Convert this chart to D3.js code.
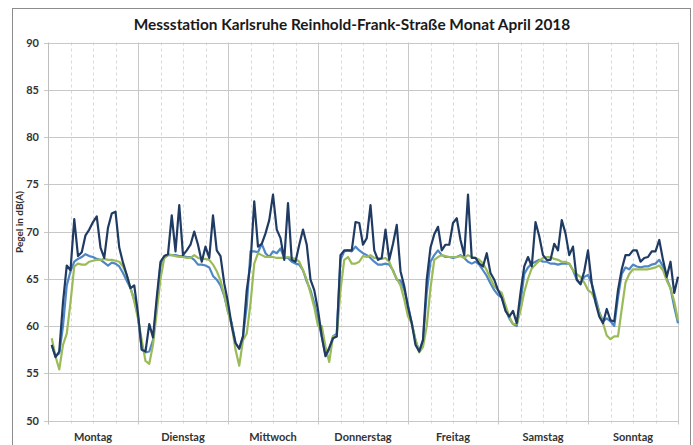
<!DOCTYPE html>
<html>
<head>
<meta charset="utf-8">
<script src="https://cdn.jsdelivr.net/npm/d3@7"></script>
<style>
  html, body { margin: 0; padding: 0; background: #fff; }
  svg { display: block; font-family: Lato, "Open Sans", sans-serif; }
</style>
</head>
<body>
<div id="chart"></div>
<script>
const titel = 'Messstation Karlsruhe Reinhold-Frank-Straße Monat April 2018';
const tage = ['Montag', 'Dienstag', 'Mittwoch', 'Donnerstag', 'Freitag', 'Samstag', 'Sonntag'];
const yTicks = [50, 55, 60, 65, 70, 75, 80, 85, 90];

// Stundenwerte, je Zeile ein Wochentag (0-23 Uhr)
const pegelDunkel = [
  58.0, 56.7, 57.3, 62.5, 66.4, 65.9, 71.3, 67.4, 67.8, 69.6, 70.2, 71.0, 71.6, 68.3, 67.2, 70.4, 71.9, 72.1, 68.3, 66.7, 65.4, 64.0, 64.3, 61.3,
  57.5, 57.3, 60.2, 58.8, 63.0, 66.8, 67.4, 67.6, 71.7, 67.9, 72.8, 67.5, 68.0, 68.6, 70.0, 68.6, 66.8, 68.4, 67.2, 71.7, 68.0, 67.4, 64.5, 62.5,
  60.0, 58.2, 57.6, 58.9, 63.8, 66.6, 73.2, 68.4, 68.7, 69.8, 71.2, 73.9, 70.2, 69.3, 67.0, 73.0, 67.0, 66.8, 68.6, 70.2, 68.6, 64.9, 63.8, 61.7,
  58.9, 56.8, 57.7, 58.7, 58.9, 67.5, 68.0, 68.0, 68.0, 71.0, 70.9, 68.6, 69.3, 72.8, 68.0, 67.0, 67.2, 70.2, 67.0, 68.7, 70.7, 65.8, 64.2, 62.0,
  60.3, 58.0, 57.3, 58.5, 64.9, 68.3, 69.7, 70.5, 68.0, 68.6, 68.6, 70.9, 71.4, 69.1, 67.5, 73.9, 67.2, 67.2, 66.6, 66.3, 67.7, 65.6, 64.9, 63.8,
  63.0, 61.6, 61.0, 61.6, 60.3, 63.5, 66.3, 67.3, 66.3, 71.0, 69.5, 67.5, 67.0, 67.0, 68.7, 68.0, 71.2, 69.8, 67.5, 68.4, 64.9, 64.4, 65.8, 68.0,
  64.5, 62.5, 61.0, 60.3, 61.8, 60.6, 60.5, 63.8, 66.0, 67.5, 67.5, 68.0, 68.0, 66.8, 67.2, 67.3, 67.9, 67.9, 69.1, 67.0, 65.2, 66.8, 63.5, 65.2
];
const pegelBlau = [
  58.0, 56.8, 57.1, 60.0, 64.3, 65.8, 66.8, 67.1, 67.3, 67.6, 67.4, 67.3, 67.1, 67.0, 66.7, 66.4, 66.7, 66.6, 66.3, 65.6, 64.8, 64.0, 62.8, 61.0,
  57.5, 57.2, 57.3, 58.5, 62.5, 66.5, 67.2, 67.5, 67.5, 67.5, 67.4, 67.4, 67.3, 67.3, 67.0, 66.5, 66.5, 66.4, 66.2, 65.3, 64.9, 64.3, 63.2, 61.5,
  60.3, 58.2, 57.6, 58.9, 62.1, 67.9, 67.9, 67.8, 68.7, 67.7, 67.3, 67.9, 67.7, 68.2, 67.2, 67.2, 66.8, 66.6, 66.5, 65.9, 64.7, 63.8, 62.4, 60.6,
  58.9, 56.9, 57.5, 58.9, 59.2, 67.0, 67.9, 68.0, 67.9, 68.4, 68.0, 67.7, 67.5, 67.2, 66.8, 66.5, 66.5, 66.6, 66.5, 65.9, 64.9, 64.8, 63.8, 62.2,
  60.3, 58.5, 57.3, 58.5, 63.5, 66.8, 67.5, 68.0, 67.5, 67.3, 67.3, 67.2, 67.3, 67.5, 67.2, 66.8, 66.6, 66.8, 66.5, 65.9, 65.3, 64.5, 63.8, 63.3,
  63.0, 61.8, 60.8, 60.2, 60.0, 62.5, 65.5, 66.2, 66.6, 66.8, 67.0, 66.8, 66.8, 66.6, 66.6, 66.5, 66.6, 66.6, 66.6, 65.9, 64.9, 64.5, 65.2, 65.4,
  64.5, 63.0, 61.5, 60.5, 60.8, 60.5, 60.0, 63.0, 65.5, 66.2, 66.0, 66.5, 66.3, 66.2, 66.3, 66.3, 66.5, 66.6, 67.0, 66.3, 65.0, 64.0, 62.0, 60.3
];
const pegelGruen = [
  58.7, 56.8, 55.4, 58.0, 59.2, 62.5, 66.3, 66.6, 66.5, 66.5, 66.8, 66.9, 67.0, 67.0, 67.1, 67.0, 67.0, 66.9, 66.8, 66.3, 65.4, 64.0, 62.6, 60.8,
  58.5, 56.3, 56.0, 58.0, 61.5, 65.0, 67.2, 67.6, 67.5, 67.4, 67.3, 67.3, 67.2, 67.2, 67.5, 67.2, 67.1, 67.1, 67.0, 66.5, 65.8, 64.8, 63.3, 61.5,
  60.0, 57.5, 55.8, 58.5, 59.2, 62.4, 66.6, 67.7, 67.5, 67.3, 67.3, 67.3, 67.2, 67.2, 67.2, 67.3, 67.2, 67.1, 66.8, 65.9, 64.9, 63.5, 62.0, 60.0,
  60.0, 57.8, 56.2, 58.9, 58.9, 63.8, 67.0, 67.3, 66.6, 66.6, 66.8, 67.4, 67.3, 67.5, 67.2, 67.2, 67.1, 67.2, 66.8, 65.8, 65.0, 64.3, 62.8, 61.0,
  60.3, 58.5, 57.2, 57.8, 60.0, 64.0, 67.0, 67.3, 67.5, 67.4, 67.3, 67.3, 67.3, 67.4, 67.2, 67.5, 67.3, 67.2, 67.0, 66.6, 65.9, 65.0, 64.2, 63.8,
  63.5, 62.2, 61.0, 60.2, 60.2, 61.6, 63.6, 65.0, 66.1, 66.5, 66.9, 67.2, 67.3, 67.3, 67.1, 67.0, 66.8, 66.8, 66.6, 65.9, 65.5, 65.2, 64.6, 63.8,
  63.5, 62.6, 61.4, 60.3, 59.0, 58.6, 58.9, 58.9, 61.8, 64.6, 65.5, 66.0, 66.0, 66.0, 66.0, 66.0, 66.1, 66.2, 66.4, 65.9, 64.8, 64.0, 62.6, 60.6
];

class PegelChart {
  constructor(root) {
    this.root = d3.select(root);
    this.width = 693;
    this.height = 445;
    this.margin = { left: 48, right: 15, top: 42.5, bottom: 24.5 };
    this.createDOM();
    this.display();
  }

  createDOM() {
    this.svg = this.root.append('svg')
      .attr('width', this.width)
      .attr('height', this.height);

    this.x = d3.scaleLinear()
      .domain([0, tage.length * 24])
      .range([this.margin.left, this.width - this.margin.right]);

    this.y = d3.scaleLinear()
      .domain([50, 90])
      .range([this.height - this.margin.bottom, this.margin.top]);
  }

  display() {
    const x = this.x;
    const y = this.y;
    const svg = this.svg;
    const x0 = x.range()[0];
    const x1 = x.range()[1];

    // Rahmen um das Diagramm
    svg.append('rect')
      .attr('x', 12.5)
      .attr('y', 8.5)
      .attr('width', 678)
      .attr('height', 460)
      .attr('fill', '#fff')
      .attr('stroke', '#8c8c8c');

    svg.append('text')
      .attr('x', 352)
      .attr('y', 30)
      .attr('text-anchor', 'middle')
      .style('font-size', '15.4px')
      .style('font-weight', 'bold')
      .attr('fill', '#1a1a1a')
      .text(titel);

    // Stundenraster alle 6 Stunden
    const minor = d3.range(0, tage.length * 24 + 1, 6).filter(h => h % 24 !== 0);
    svg.append('g')
      .selectAll('line')
      .data(minor)
      .join('line')
      .attr('x1', d => Math.round(x(d)) + 0.5)
      .attr('x2', d => Math.round(x(d)) + 0.5)
      .attr('y1', y(90))
      .attr('y2', y(50) + 3)
      .attr('stroke', '#d9d9d9')
      .attr('stroke-dasharray', '3,3');

    // Tagesgrenzen
    svg.append('g')
      .selectAll('line')
      .data(d3.range(1, tage.length))
      .join('line')
      .attr('x1', d => Math.round(x(d * 24)) + 0.5)
      .attr('x2', d => Math.round(x(d * 24)) + 0.5)
      .attr('y1', y(90))
      .attr('y2', y(50) + 4)
      .attr('stroke', '#c8c8c8');

    svg.append('g')
      .selectAll('line')
      .data(yTicks)
      .join('line')
      .attr('x1', x0 - 4)
      .attr('x2', x1)
      .attr('y1', d => Math.round(y(d)) + 0.5)
      .attr('y2', d => Math.round(y(d)) + 0.5)
      .attr('stroke', '#c8c8c8');

    svg.append('line')
      .attr('x1', Math.round(x1) + 0.5)
      .attr('x2', Math.round(x1) + 0.5)
      .attr('y1', y(90))
      .attr('y2', y(50) + 4)
      .attr('stroke', '#c8c8c8');

    svg.append('line')
      .attr('x1', x0 + 0.5)
      .attr('x2', x0 + 0.5)
      .attr('y1', y(90))
      .attr('y2', y(50) + 4)
      .attr('stroke', '#bdbdbd');

    svg.append('g')
      .selectAll('text')
      .data(yTicks)
      .join('text')
      .attr('x', 39)
      .attr('y', d => y(d) + 4)
      .attr('text-anchor', 'end')
      .style('font-size', '11px')
      .style('font-weight', 'bold')
      .attr('fill', '#333')
      .text(d => d);

    svg.append('text')
      .attr('transform', `translate(23,${222}) rotate(-90)`)
      .attr('text-anchor', 'middle')
      .style('font-size', '10px')
      .style('font-weight', 'bold')
      .attr('fill', '#333')
      .text('Pegel in dB(A)');

    svg.append('g')
      .selectAll('text')
      .data(tage)
      .join('text')
      .attr('x', (d, i) => x(i * 24 + 12))
      .attr('y', 441)
      .attr('text-anchor', 'middle')
      .style('font-size', '11px')
      .style('font-weight', 'bold')
      .attr('fill', '#333')
      .text(d => d);

    const line = d3.line()
      .x((d, i) => x(i + 1))
      .y(d => y(d));

    const reihen = [
      { werte: pegelBlau, farbe: '#4f86c6' },
      { werte: pegelGruen, farbe: '#9bbb59' },
      { werte: pegelDunkel, farbe: '#1f3b63' }
    ];

    svg.append('g')
      .selectAll('path')
      .data(reihen)
      .join('path')
      .attr('d', d => line(d.werte))
      .attr('fill', 'none')
      .attr('stroke', d => d.farbe)
      .attr('stroke-width', 2.2)
      .attr('stroke-linejoin', 'round');
  }
}

new PegelChart('#chart');
</script>
</body>
</html>
